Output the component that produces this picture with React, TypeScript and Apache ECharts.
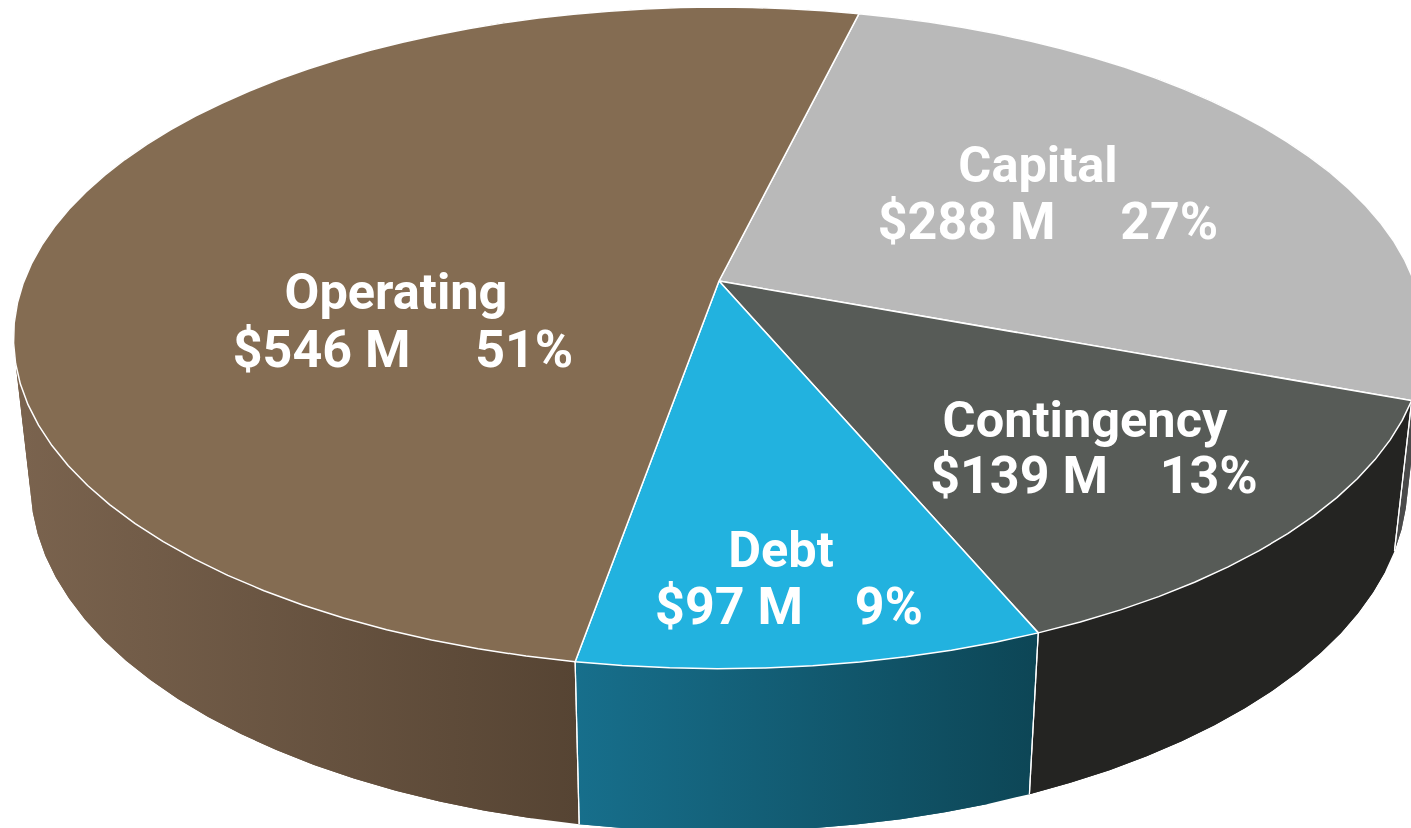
import React, { useEffect, useRef } from "react";
import * as echarts from "echarts";

const categories = ["Capital", "Contingency", "Debt", "Operating"];
const amounts = [288, 139, 97, 546];
const amountLabels = ["$288 M     27%", "$139 M    13%", "$97 M    9%", "$546 M     51%"];

const topColors = ["#B9B9B9", "#575B57", "#22B2DF", "#846C52"];
const sideStops = [
  ["#4A4A4A", "#4A4A4A"],
  ["#242422", "#242422"],
  ["#176F8C", "#0D4656"],
  ["#7A634E", "#564433"],
];
const sideRange = [
  [1390, 1411],
  [1030, 1411],
  [575, 1035],
  [20, 578],
];
const namePos = [
  [1038, 164],
  [1085, 419],
  [781, 549],
  [396, 291],
];
const valuePos = [
  [1048, 221],
  [1094, 475],
  [789, 606],
  [403, 349],
];

const START_DEG = 13.6;
const X0 = 719, Y0 = 281, A = 695, B = 321, K = 0.172, DEPTH = 148, M = 0.024;
const FONT = "Roboto, sans-serif";
const total = amounts.reduce((s, v) => s + v, 0);

function project(deg: number, lower: boolean): number[] {
  const t = (deg * Math.PI) / 180;
  const u = Math.sin(t);
  const v = -Math.cos(t);
  const w = 1 - K * v + (lower ? M : 0);
  return [X0 + (A * u) / w, Y0 + (B * v + (lower ? DEPTH : 0)) / w];
}

function rim(a0: number, a1: number, lower: boolean): number[][] {
  const n = Math.max(1, Math.ceil((a1 - a0) / 3.5));
  const pts: number[][] = [];
  for (let i = 0; i <= n; i++) pts.push(project(a0 + ((a1 - a0) * i) / n, lower));
  return pts;
}

function sliceRange(index: number): number[] {
  let before = 0;
  for (let i = 0; i < index; i++) before += amounts[i];
  const a0 = START_DEG + (before / total) * 360;
  return [a0, a0 + (amounts[index] / total) * 360];
}

const renderSide = (params: any, api: any) => {
  const i = params.dataIndex;
  const [a0] = sliceRange(i);
  const a1 = a0 + (api.value(0) / total) * 360;
  const top = rim(a0, a1, false);
  const bottom = rim(a0, a1, true);
  const fill = new echarts.graphic.LinearGradient(
    sideRange[i][0], 0, sideRange[i][1], 0,
    [
      { offset: 0, color: sideStops[i][0] },
      { offset: 1, color: sideStops[i][1] },
    ],
    true
  );
  const quads = [];
  const last = top.length - 1;
  for (let k = 0; k < last; k++) {
    const next = Math.min(k + 2, last);
    const upper = top.slice(k, next + 1);
    const lower = bottom.slice(k, next + 1).reverse();
    quads.push({
      type: "polygon",
      shape: { points: upper.concat(lower) },
      style: { fill },
    });
  }
  return { type: "group", children: quads };
};

const renderEdges = (params: any, api: any) => {
  const i = params.dataIndex;
  const [a0] = sliceRange(i);
  const a1 = a0 + (api.value(0) / total) * 360;
  const top = rim(a0, a1, false);
  const bottom = rim(a0, a1, true);
  const line = { stroke: "#FFFFFF", lineWidth: 1.2, fill: "none" };
  return {
    type: "group",
    children: [
      { type: "polyline", shape: { points: [top[0], bottom[0]] }, style: line },
      { type: "polyline", shape: { points: [top[top.length - 1], bottom[bottom.length - 1]] }, style: line },
    ],
  };
};

const renderTop = (params: any, api: any) => {
  const i = params.dataIndex;
  const [a0] = sliceRange(i);
  const a1 = a0 + (api.value(0) / total) * 360;
  const pts = [[X0, Y0]].concat(rim(a0, a1, false));
  const base = {
    fill: "#FFFFFF",
    align: "center",
    verticalAlign: "middle",
  };
  return {
    type: "group",
    children: [
      {
        type: "polygon",
        shape: { points: pts },
        style: { fill: topColors[i], stroke: "#FFFFFF", lineWidth: 1.5, lineJoin: "round" },
      },
      {
        type: "text",
        x: namePos[i][0],
        y: namePos[i][1],
        style: { ...base, font: `700 50.5px ${FONT}`, text: categories[i] },
      },
      {
        type: "text",
        x: valuePos[i][0],
        y: valuePos[i][1],
        style: { ...base, font: `700 52px ${FONT}`, text: amountLabels[i] },
      },
    ],
  };
};

export default function App() {
  const ref = useRef<HTMLDivElement>(null);
  useEffect(() => {
    document.body.style.margin = "0";
    document.body.style.overflow = "hidden";
    const chart = echarts.init(ref.current as HTMLDivElement, null, { renderer: "svg" });
    const data = amounts.map((value, i) => ({ name: categories[i], value: [value] }));
    chart.setOption({
      animation: false,
      backgroundColor: "#FFFFFF",
      series: [
        { type: "custom", coordinateSystem: "none", renderItem: renderSide, data, silent: true, z: 1, clip: false },
        { type: "custom", coordinateSystem: "none", renderItem: renderEdges, data, silent: true, z: 2, clip: false },
        { type: "custom", coordinateSystem: "none", renderItem: renderTop, data, silent: true, z: 3, clip: false },
      ],
    });
    return () => chart.dispose();
  }, []);
  return <div ref={ref} style={{ width: 1411, height: 828 }} />;
}
